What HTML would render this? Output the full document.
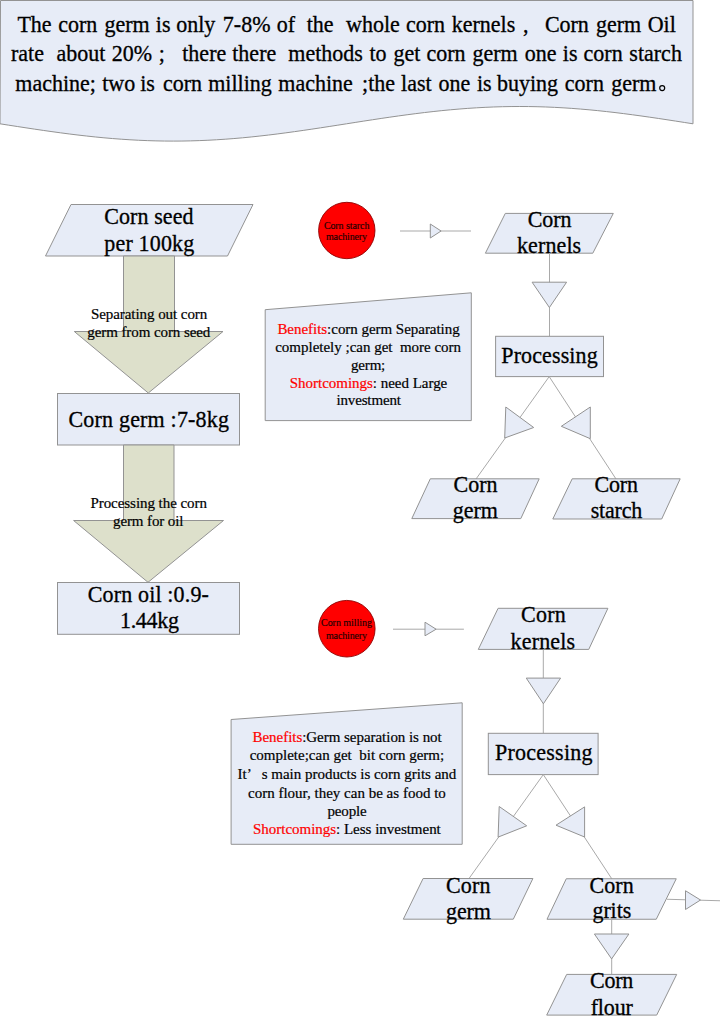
<!DOCTYPE html>
<html><head><meta charset="utf-8"><style>
html,body{margin:0;padding:0;background:#fff;width:720px;height:1022px;overflow:hidden}
svg{display:block}
text{font-family:"Liberation Serif",serif;white-space:pre;stroke:currentColor;stroke-width:0.3px}
text.s{stroke-width:0.2px}
text.c{stroke-width:0.15px}
</style></head><body>
<svg width="720" height="1022" viewBox="0 0 720 1022">
<polygon points="0.5,0.5 693,0.5 693.0,123.8 684.34,122.44 675.67,121.09 667.01,119.76 658.35,118.45 649.69,117.18 641.02,115.95 632.36,114.76 623.7,113.63 615.04,112.56 606.38,111.57 597.71,110.64 589.05,109.8 580.39,109.05 571.73,108.39 563.06,107.82 554.4,107.35 545.74,106.98 537.08,106.71 528.41,106.55 519.75,106.5 511.09,106.55 502.43,106.71 493.76,106.98 485.1,107.35 476.44,107.82 467.77,108.39 459.11,109.05 450.45,109.8 441.79,110.64 433.12,111.57 424.46,112.56 415.8,113.63 407.14,114.76 398.48,115.95 389.81,117.18 381.15,118.45 372.49,119.76 363.82,121.09 355.16,122.44 346.5,123.8 337.84,125.16 329.18,126.51 320.51,127.84 311.85,129.15 303.19,130.42 294.52,131.65 285.86,132.84 277.2,133.97 268.54,135.04 259.88,136.03 251.21,136.96 242.55,137.8 233.89,138.55 225.23,139.21 216.56,139.78 207.9,140.25 199.24,140.62 190.57,140.89 181.91,141.05 173.25,141.1 164.59,141.05 155.92,140.89 147.26,140.62 138.6,140.25 129.94,139.78 121.27,139.21 112.61,138.55 103.95,137.8 95.29,136.96 86.62,136.03 77.96,135.04 69.3,133.97 60.64,132.84 51.98,131.65 43.31,130.42 34.65,129.15 25.99,127.84 17.33,126.51 8.66,125.16 0.0,123.8" fill="#e7ecf7" stroke="#939393" stroke-width="1"/>
<text transform="translate(17.39,31.90) scale(1,1.03)" font-size="22" fill="#000" color="#000">The</text>
<text transform="translate(58.20,31.90) scale(1,1.03)" font-size="22" fill="#000" color="#000">corn</text>
<text transform="translate(104.39,31.90) scale(1,1.03)" font-size="22" fill="#000" color="#000">germ</text>
<text transform="translate(155.79,31.90) scale(1,1.03)" font-size="22" fill="#000" color="#000">is</text>
<text transform="translate(176.19,31.90) scale(1,1.03)" font-size="22" fill="#000" color="#000">only</text>
<text transform="translate(222.87,31.90) scale(1,1.03)" font-size="22" fill="#000" color="#000">7-8%</text>
<text transform="translate(276.73,31.90) scale(1,1.03)" font-size="22" fill="#000" color="#000">of</text>
<text transform="translate(306.76,31.90) scale(1,1.03)" font-size="22" fill="#000" color="#000">the</text>
<text transform="translate(346.02,31.90) scale(1,1.03)" font-size="22" fill="#000" color="#000">whole</text>
<text transform="translate(405.95,31.90) scale(1,1.03)" font-size="22" fill="#000" color="#000">corn</text>
<text transform="translate(451.73,31.90) scale(1,1.03)" font-size="22" fill="#000" color="#000">kernels</text>
<text transform="translate(544.88,31.90) scale(1,1.03)" font-size="22" fill="#000" color="#000">Corn</text>
<text transform="translate(595.89,31.90) scale(1,1.03)" font-size="22" fill="#000" color="#000">germ</text>
<text transform="translate(647.69,31.90) scale(1,1.03)" font-size="22" fill="#000" color="#000">Oil</text>
<text transform="translate(11.01,61.20) scale(1,1.03)" font-size="22" fill="#000" color="#000">rate</text>
<text transform="translate(56.43,61.20) scale(1,1.03)" font-size="22" fill="#000" color="#000">about</text>
<text transform="translate(111.79,61.20) scale(1,1.03)" font-size="22" fill="#000" color="#000">20%</text>
<text transform="translate(182.26,61.20) scale(1,1.03)" font-size="22" fill="#000" color="#000">there</text>
<text transform="translate(232.26,61.20) scale(1,1.03)" font-size="22" fill="#000" color="#000">there</text>
<text transform="translate(288.35,61.20) scale(1,1.03)" font-size="22" fill="#000" color="#000">methods</text>
<text transform="translate(369.44,61.20) scale(1,1.03)" font-size="22" fill="#000" color="#000">to</text>
<text transform="translate(393.43,61.20) scale(1,1.03)" font-size="22" fill="#000" color="#000">get</text>
<text transform="translate(426.45,61.20) scale(1,1.03)" font-size="22" fill="#000" color="#000">corn</text>
<text transform="translate(472.39,61.20) scale(1,1.03)" font-size="22" fill="#000" color="#000">germ</text>
<text transform="translate(524.82,61.20) scale(1,1.03)" font-size="22" fill="#000" color="#000">one</text>
<text transform="translate(562.81,61.20) scale(1,1.03)" font-size="22" fill="#000" color="#000">is</text>
<text transform="translate(583.58,61.20) scale(1,1.03)" font-size="22" fill="#000" color="#000">corn</text>
<text transform="translate(629.36,61.20) scale(1,1.03)" font-size="22" fill="#000" color="#000">starch</text>
<text transform="translate(15.31,90.70) scale(1,1.03)" font-size="22" fill="#000" color="#000">machine;</text>
<text transform="translate(102.25,90.70) scale(1,1.03)" font-size="22" fill="#000" color="#000">two</text>
<text transform="translate(140.16,90.70) scale(1,1.03)" font-size="22" fill="#000" color="#000">is</text>
<text transform="translate(162.95,90.70) scale(1,1.03)" font-size="22" fill="#000" color="#000">corn</text>
<text transform="translate(208.22,90.70) scale(1,1.03)" font-size="22" fill="#000" color="#000">milling</text>
<text transform="translate(278.37,90.70) scale(1,1.03)" font-size="22" fill="#000" color="#000">machine</text>
<text transform="translate(362.05,90.70) scale(1,1.03)" font-size="22" fill="#000" color="#000">;the</text>
<text transform="translate(401.07,90.70) scale(1,1.03)" font-size="22" fill="#000" color="#000">last</text>
<text transform="translate(438.57,90.70) scale(1,1.03)" font-size="22" fill="#000" color="#000">one</text>
<text transform="translate(477.01,90.70) scale(1,1.03)" font-size="22" fill="#000" color="#000">is</text>
<text transform="translate(496.94,90.70) scale(1,1.03)" font-size="22" fill="#000" color="#000">buying</text>
<text transform="translate(564.83,90.70) scale(1,1.03)" font-size="22" fill="#000" color="#000">corn</text>
<text transform="translate(611.14,90.70) scale(1,1.03)" font-size="22" fill="#000" color="#000">germ</text>
<text transform="translate(523.00,31.90) scale(1,1.03)" font-size="22" fill="#000" color="#000">,</text>
<text transform="translate(158.84,61.20) scale(1,1.03)" font-size="22" fill="#000" color="#000">;</text>
<circle cx="662.2" cy="88.1" r="2.5" fill="none" stroke="#000" stroke-width="1.2"/>
<polygon points="71,204.5 253,204.5 227.5,256 45.5,256" fill="#e7ecf7" stroke="#939393" stroke-width="1"/>
<text transform="translate(104.30,224.15) scale(1,1.03)" font-size="22" fill="#000" color="#000" textLength="89.20" lengthAdjust="spacing">Corn seed</text>
<text transform="translate(104.30,250.80) scale(1,1.03)" font-size="22" fill="#000" color="#000" textLength="90.00" lengthAdjust="spacing">per 100kg</text>
<polygon points="123.5,256 174.5,256 174.5,331.5 223,331.5 148.3,393 74.3,331.5 123.5,331.5" fill="#dde0cb" stroke="#939393" stroke-width="1"/>
<text class="s" transform="translate(90.90,319.20) scale(1,1.0)" font-size="15" fill="#000" color="#000" textLength="116.40" lengthAdjust="spacing">Separating out corn</text>
<text class="s" transform="translate(87.30,337.30) scale(1,1.0)" font-size="15" fill="#000" color="#000" textLength="123.00" lengthAdjust="spacing">germ from corn seed</text>
<rect x="57.5" y="393.5" width="182.00" height="51.50" fill="#e7ecf7" stroke="#939393"/>
<text transform="translate(68.50,426.70) scale(1,1.03)" font-size="22" fill="#000" color="#000" textLength="160.49" lengthAdjust="spacing">Corn germ :7-8kg</text>
<polygon points="123.5,445 174,445 174,520.5 223.5,520.5 148,582.3 73.6,520.5 123.5,520.5" fill="#dde0cb" stroke="#939393" stroke-width="1"/>
<text class="s" transform="translate(90.40,508.00) scale(1,1.0)" font-size="15" fill="#000" color="#000" textLength="116.59" lengthAdjust="spacing">Processing the corn</text>
<text class="s" transform="translate(113.00,525.90) scale(1,1.0)" font-size="15" fill="#000" color="#000" textLength="70.41" lengthAdjust="spacing">germ for oil</text>
<rect x="57.5" y="582.5" width="182.00" height="51.80" fill="#e7ecf7" stroke="#939393"/>
<text transform="translate(87.80,601.70) scale(1,1.03)" font-size="22" fill="#000" color="#000" textLength="121.09" lengthAdjust="spacing">Corn oil :0.9-</text>
<text transform="translate(120.00,628.40) scale(1,1.03)" font-size="22" fill="#000" color="#000" textLength="58.90" lengthAdjust="spacing">1.44kg</text>
<circle cx="346.8" cy="230.5" r="28.2" fill="#ff0000" stroke="#900000" stroke-width="0.9"/>
<text class="c" transform="translate(323.90,228.50) scale(1,1.0)" font-size="10" fill="#1a0000" color="#1a0000" textLength="45.50" lengthAdjust="spacing">Corn starch</text>
<text class="c" transform="translate(326.00,240.10) scale(1,1.0)" font-size="10" fill="#1a0000" color="#1a0000" textLength="41.00" lengthAdjust="spacing">machinery</text>
<line x1="400" y1="231" x2="471" y2="231" stroke="#a9a9a9" stroke-width="1"/>
<polygon points="430.3,224 441.1,231 430.3,238" fill="#e7ecf7" stroke="#939393" stroke-width="1"/>
<polygon points="505.3,213.4 613.3,213.4 592.8,253.2 485.4,253.2" fill="#e7ecf7" stroke="#939393" stroke-width="1"/>
<text transform="translate(527.70,226.80) scale(1,1.03)" font-size="22" fill="#000" color="#000" textLength="43.70" lengthAdjust="spacing">Corn</text>
<text transform="translate(517.00,253.40) scale(1,1.03)" font-size="22" fill="#000" color="#000" textLength="64.19" lengthAdjust="spacing">kernels</text>
<line x1="549.5" y1="253.2" x2="549.5" y2="336.3" stroke="#a9a9a9" stroke-width="1"/>
<polygon points="532.1,282.2 566.6,282.2 549.4,307.5" fill="#e7ecf7" stroke="#939393" stroke-width="1"/>
<rect x="495.6" y="336.3" width="107.90" height="40.30" fill="#e7ecf7" stroke="#939393"/>
<text transform="translate(501.30,363.30) scale(1,1.03)" font-size="22" fill="#000" color="#000" textLength="96.40" lengthAdjust="spacing">Processing</text>
<line x1="549.2" y1="376.6" x2="476" y2="479" stroke="#a9a9a9" stroke-width="1"/>
<line x1="549.2" y1="376.6" x2="616" y2="479" stroke="#a9a9a9" stroke-width="1"/>
<polygon points="505.8,407 533.7,427.5 504.7,438" fill="#e7ecf7" stroke="#939393" stroke-width="1"/>
<polygon points="590.3,407 561.3,426.3 590.3,438.7" fill="#e7ecf7" stroke="#939393" stroke-width="1"/>
<polygon points="430.3,478.8 539.2,478.8 520.8,518.6 411.8,518.6" fill="#e7ecf7" stroke="#939393" stroke-width="1"/>
<text transform="translate(453.60,492.20) scale(1,1.03)" font-size="22" fill="#000" color="#000" textLength="43.80" lengthAdjust="spacing">Corn</text>
<text transform="translate(452.70,518.10) scale(1,1.03)" font-size="22" fill="#000" color="#000" textLength="45.29" lengthAdjust="spacing">germ</text>
<polygon points="572.2,478.8 680.2,478.8 661.7,519 552.8,519" fill="#e7ecf7" stroke="#939393" stroke-width="1"/>
<text transform="translate(594.60,492.20) scale(1,1.03)" font-size="22" fill="#000" color="#000" textLength="43.40" lengthAdjust="spacing">Corn</text>
<text transform="translate(590.70,518.10) scale(1,1.03)" font-size="22" fill="#000" color="#000" textLength="51.59" lengthAdjust="spacing">starch</text>
<polygon points="265.2,309.7 471.3,292.8 471.3,420.6 265.2,420.6" fill="#e7ecf7" stroke="#939393" stroke-width="1"/>
<text class="s" transform="translate(277.40,334.10) scale(1,1.0)" font-size="15" fill="#000" color="#000" textLength="182.30" lengthAdjust="spacing"><tspan fill="#ff0000" color="#ff0000">Benefits</tspan>:corn germ Separating</text>
<text class="s" transform="translate(275.20,352.10) scale(1,1.0)" font-size="15" fill="#000" color="#000" textLength="185.89" lengthAdjust="spacing">completely ;can get  more corn</text>
<text class="s" transform="translate(351.00,369.60) scale(1,1.0)" font-size="15" fill="#000" color="#000" textLength="34.29" lengthAdjust="spacing">germ;</text>
<text class="s" transform="translate(289.80,387.80) scale(1,1.0)" font-size="15" fill="#000" color="#000" textLength="157.49" lengthAdjust="spacing"><tspan fill="#ff0000" color="#ff0000">Shortcomings</tspan>: need Large</text>
<text class="s" transform="translate(336.50,405.30) scale(1,1.0)" font-size="15" fill="#000" color="#000" textLength="64.40" lengthAdjust="spacing">investment</text>
<circle cx="346.8" cy="628.7" r="28.3" fill="#ff0000" stroke="#900000" stroke-width="0.9"/>
<text class="c" transform="translate(321.00,626.30) scale(1,1.0)" font-size="10" fill="#1a0000" color="#1a0000" textLength="51.00" lengthAdjust="spacing">Corn milling</text>
<text class="c" transform="translate(326.00,638.50) scale(1,1.0)" font-size="10" fill="#1a0000" color="#1a0000" textLength="41.00" lengthAdjust="spacing">machinery</text>
<line x1="393" y1="629.2" x2="463.9" y2="629.2" stroke="#a9a9a9" stroke-width="1"/>
<polygon points="425,622.2 436.1,629.2 425,635.8" fill="#e7ecf7" stroke="#939393" stroke-width="1"/>
<polygon points="498.1,608.3 607.9,608.3 588.75,649.4 478.3,649.4" fill="#e7ecf7" stroke="#939393" stroke-width="1"/>
<text transform="translate(521.00,622.30) scale(1,1.03)" font-size="22" fill="#000" color="#000" textLength="44.80" lengthAdjust="spacing">Corn</text>
<text transform="translate(510.60,648.70) scale(1,1.03)" font-size="22" fill="#000" color="#000" textLength="64.59" lengthAdjust="spacing">kernels</text>
<line x1="543.3" y1="649.4" x2="543.3" y2="733.3" stroke="#a9a9a9" stroke-width="1"/>
<polygon points="526.25,678.1 560.6,678.1 543.4,703.75" fill="#e7ecf7" stroke="#939393" stroke-width="1"/>
<rect x="488.3" y="733.3" width="109.80" height="41.30" fill="#e7ecf7" stroke="#939393"/>
<text transform="translate(495.00,760.40) scale(1,1.03)" font-size="22" fill="#000" color="#000" textLength="97.50" lengthAdjust="spacing">Processing</text>
<line x1="543.3" y1="774.6" x2="469" y2="878.5" stroke="#a9a9a9" stroke-width="1"/>
<line x1="543.3" y1="774.6" x2="611.75" y2="878.75" stroke="#a9a9a9" stroke-width="1"/>
<polygon points="499.2,806.5 526.7,825.8 498.1,837.1" fill="#e7ecf7" stroke="#939393" stroke-width="1"/>
<polygon points="584.6,806.9 556,825.2 584.6,837" fill="#e7ecf7" stroke="#939393" stroke-width="1"/>
<polygon points="423.1,878.5 532.9,878.5 513.3,919.2 403.3,919.2" fill="#e7ecf7" stroke="#939393" stroke-width="1"/>
<text transform="translate(446.00,893.10) scale(1,1.03)" font-size="22" fill="#000" color="#000" textLength="44.40" lengthAdjust="spacing">Corn</text>
<text transform="translate(446.00,919.15) scale(1,1.03)" font-size="22" fill="#000" color="#000" textLength="44.99" lengthAdjust="spacing">germ</text>
<polygon points="566.25,878.75 676.25,878.75 656.25,919.25 547,919.25" fill="#e7ecf7" stroke="#939393" stroke-width="1"/>
<text transform="translate(589.50,892.90) scale(1,1.03)" font-size="22" fill="#000" color="#000" textLength="44.25" lengthAdjust="spacing">Corn</text>
<text transform="translate(592.50,918.40) scale(1,1.03)" font-size="22" fill="#000" color="#000" textLength="38.75" lengthAdjust="spacing">grits</text>
<line x1="667" y1="899.25" x2="720" y2="900.75" stroke="#a9a9a9" stroke-width="1"/>
<polygon points="685.5,890.75 700.5,900 685.5,909.5" fill="#e7ecf7" stroke="#939393" stroke-width="1"/>
<line x1="611.7" y1="919.25" x2="611.7" y2="974.4" stroke="#a9a9a9" stroke-width="1"/>
<polygon points="594.4,934 628.9,934 611.6,958.9" fill="#e7ecf7" stroke="#939393" stroke-width="1"/>
<polygon points="566.7,974.4 676.7,974.4 656.7,1015.1 546.7,1015.1" fill="#e7ecf7" stroke="#939393" stroke-width="1"/>
<text transform="translate(590.00,988.20) scale(1,1.03)" font-size="22" fill="#000" color="#000" textLength="43.30" lengthAdjust="spacing">Corn</text>
<text transform="translate(590.70,1014.80) scale(1,1.03)" font-size="22" fill="#000" color="#000" textLength="42.20" lengthAdjust="spacing">flour</text>
<polygon points="231.1,719.5 462.2,702.8 462.2,844.3 231.1,844.3" fill="#e7ecf7" stroke="#939393" stroke-width="1"/>
<text class="s" transform="translate(252.50,742.20) scale(1,1.0)" font-size="15" fill="#000" color="#000" textLength="189.21" lengthAdjust="spacing"><tspan fill="#ff0000" color="#ff0000">Benefits</tspan>:Germ separation is not</text>
<text class="s" transform="translate(249.70,759.90) scale(1,1.0)" font-size="15" fill="#000" color="#000" textLength="194.50" lengthAdjust="spacing">complete;can get  bit corn germ;</text>
<text class="s" transform="translate(237.50,779.20) scale(1,1.0)" font-size="15" fill="#000" color="#000">It</text>
<text class="s" transform="translate(246.70,779.20) scale(1,1.0)" font-size="15" fill="#000" color="#000">’</text>
<text class="s" transform="translate(261.70,779.20) scale(1,1.0)" font-size="15" fill="#000" color="#000" textLength="194.60" lengthAdjust="spacing">s main products is corn grits and</text>
<text class="s" transform="translate(248.00,798.20) scale(1,1.0)" font-size="15" fill="#000" color="#000" textLength="197.80" lengthAdjust="spacing">corn flour, they can be as food to</text>
<text class="s" transform="translate(327.50,815.70) scale(1,1.0)" font-size="15" fill="#000" color="#000" textLength="39.19" lengthAdjust="spacing">people</text>
<text class="s" transform="translate(253.00,834.00) scale(1,1.0)" font-size="15" fill="#000" color="#000" textLength="187.79" lengthAdjust="spacing"><tspan fill="#ff0000" color="#ff0000">Shortcomings</tspan>: Less investment</text>
</svg>
</body></html>
